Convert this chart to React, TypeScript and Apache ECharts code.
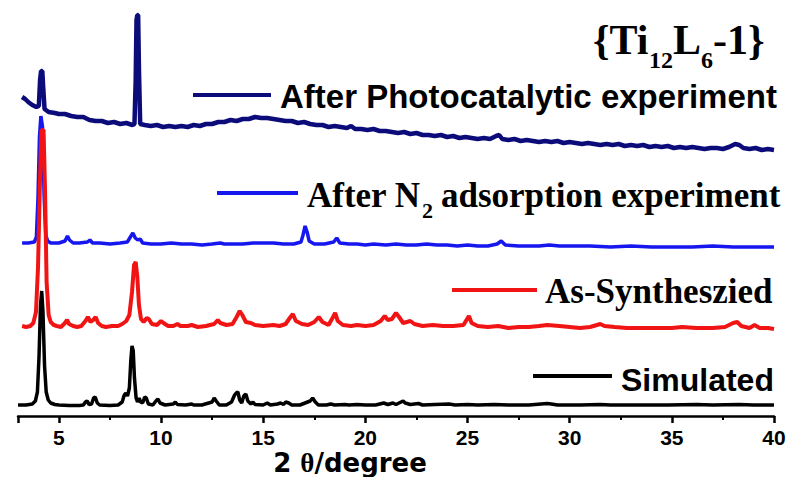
import React, { useEffect, useRef } from "react";
import * as echarts from "echarts";

// ---- axis ----
const X_MIN = 3;
const X_MAX = 40;
const X_TITLE_PARTS = ["2 ", "θ", "/degree"];

// ---- vertical offsets of stacked patterns (arbitrary intensity units) ----
const OFFSET_SIMULATED = 10;
const OFFSET_AS_SYNTH = 89;
const OFFSET_AFTER_N2 = 169;
const OFFSET_AFTER_PHOTO = 266;

// ---- patterns: [2θ, intensity] ----
const SIMULATED: number[][] = [
  [3.0, 1], [3.4, 1], [3.7, 2], [3.85, 5], [3.95, 14], [4.03, 50], [4.1, 100], [4.16, 115], [4.22, 95], [4.3, 40],
  [4.38, 14], [4.48, 6], [4.6, 3], [4.8, 1.5], [5.0, 1], [5.5, 0.5], [6.0, 0.5], [6.2, 1], [6.3, 4], [6.38, 5],
  [6.48, 1.5], [6.6, 2], [6.7, 8], [6.78, 9], [6.88, 3], [7.0, 1], [7.5, 0.5], [7.9, 1], [8.1, 4], [8.2, 11],
  [8.28, 13], [8.36, 10], [8.45, 18], [8.52, 45], [8.58, 60], [8.64, 55], [8.7, 28], [8.78, 8], [8.85, 4], [8.93, 8],
  [9.0, 4], [9.1, 3], [9.2, 9], [9.28, 8], [9.38, 2], [9.6, 1], [9.75, 5], [9.85, 7], [9.95, 3], [10.2, 1],
  [10.6, 2], [10.7, 4], [10.8, 1.5], [11.2, 1], [11.5, 2], [11.6, 1], [12.0, 1], [12.5, 4], [12.6, 8], [12.7, 5],
  [12.85, 1], [13.2, 1], [13.45, 4], [13.6, 11], [13.68, 13], [13.76, 14], [13.85, 6], [13.95, 3], [14.05, 10], [14.15, 12],
  [14.25, 5], [14.4, 2], [14.5, 4], [14.6, 1.5], [15.0, 1], [15.2, 3], [15.35, 1], [15.7, 2], [15.85, 3], [16.0, 1.5],
  [16.1, 4], [16.25, 3], [16.4, 1], [16.8, 1], [17.3, 5], [17.42, 8], [17.55, 4], [17.7, 1], [18.1, 1], [18.3, 2],
  [18.5, 1], [19.0, 1.5], [19.2, 1], [19.6, 1.5], [20.0, 1], [20.5, 1], [20.9, 3], [21.1, 1.5], [21.35, 3], [21.5, 1.5],
  [21.75, 4], [21.85, 5], [21.95, 3], [22.2, 1.5], [22.6, 2.5], [22.8, 1], [23.4, 1.5], [24.1, 2], [24.4, 1], [25.0, 1.5],
  [25.5, 1], [26.3, 1.5], [27.0, 1], [28.0, 1], [28.9, 2.5], [29.1, 2], [29.4, 1], [30.5, 1], [31.5, 1.5], [32.0, 1],
  [33.5, 1], [34.8, 1], [36.2, 1.5], [37.0, 1], [38.3, 1.5], [39.0, 1], [40.0, 1],
];

const AS_SYNTH: number[][] = [
  [3.2, 1], [3.4, 0], [3.6, 1], [3.75, 4], [3.88, 15], [3.98, 60], [4.08, 150], [4.15, 197], [4.25, 197], [4.32, 140],
  [4.4, 45], [4.5, 12], [4.6, 5], [4.75, 2], [4.9, 1], [5.1, 0], [5.3, 4], [5.4, 7], [5.5, 3], [5.7, 1],
  [5.9, 0], [6.1, 1], [6.3, 6], [6.42, 10], [6.55, 5], [6.68, 7], [6.8, 10], [6.92, 4], [7.1, 1], [7.3, 0],
  [7.6, 1], [7.9, 1], [8.1, 3], [8.3, 6], [8.45, 12], [8.58, 35], [8.68, 62], [8.76, 65], [8.84, 50], [8.92, 22],
  [9.02, 8], [9.15, 5], [9.3, 9], [9.4, 8], [9.55, 3], [9.8, 2], [10.0, 6], [10.12, 4], [10.35, 1], [10.6, 1],
  [10.8, 3], [10.95, 1], [11.3, 1], [11.5, 2], [11.8, 0], [12.2, 1], [12.6, 3], [12.78, 7], [12.9, 4], [13.2, 2],
  [13.5, 3], [13.7, 10], [13.85, 16], [13.98, 12], [14.15, 5], [14.4, 4], [14.6, 2], [15.0, 1], [15.5, 2], [15.8, 1],
  [16.1, 3], [16.3, 9], [16.45, 13], [16.6, 6], [16.9, 3], [17.2, 2], [17.5, 5], [17.72, 10], [17.9, 5], [18.2, 2],
  [18.42, 10], [18.52, 14], [18.65, 6], [18.9, 2], [19.3, 1], [19.6, 2], [20.0, 1], [20.4, 2], [20.75, 6], [20.95, 11],
  [21.1, 7], [21.3, 8], [21.5, 14], [21.65, 10], [21.85, 4], [22.2, 6], [22.4, 3], [22.8, 1], [23.3, 2], [23.8, 1],
  [24.3, 1], [24.8, 2], [24.95, 7], [25.07, 11], [25.2, 4], [25.5, 1], [26.0, 0], [26.5, 1], [27.0, -1], [27.5, 0],
  [28.0, 0], [28.5, 1], [28.9, 2], [29.5, 1], [30.0, 0], [30.5, -1], [31.0, 0], [31.5, 3], [31.7, 1], [32.2, 0],
  [32.8, -1], [33.5, -1], [34.2, -1], [35.0, -1], [35.5, 0], [36.2, -1], [37.0, -1], [37.6, 0], [38.0, 4], [38.2, 5],
  [38.4, 1], [38.8, -1], [39.05, 2], [39.3, -1], [39.7, -1], [40.0, -2],
];

const AFTER_N2: number[][] = [
  [3.2, 4], [3.5, 4], [3.8, 5], [3.9, 10], [3.98, 50], [4.05, 110], [4.12, 131], [4.2, 120], [4.28, 50], [4.36, 12],
  [4.45, 6], [4.6, 4], [5.0, 4], [5.3, 6], [5.42, 11], [5.52, 7], [5.7, 4], [6.0, 4], [6.4, 5], [6.52, 7],
  [6.65, 4], [7.0, 4], [7.5, 3], [8.0, 4], [8.35, 5], [8.5, 10], [8.62, 14], [8.74, 9], [8.86, 7], [8.98, 8],
  [9.1, 4], [9.5, 3], [10.0, 3], [10.5, 4], [11.0, 3], [11.5, 3], [12.0, 2], [12.5, 3], [12.9, 4], [13.1, 3],
  [13.5, 3], [14.0, 3], [14.5, 4], [15.0, 4], [15.5, 4], [16.0, 3], [16.5, 3], [16.85, 5], [16.95, 12], [17.05, 21],
  [17.15, 15], [17.25, 6], [17.5, 3], [18.0, 3], [18.45, 5], [18.6, 9], [18.75, 4], [19.2, 3], [19.6, 3], [20.0, 2],
  [20.4, 3], [21.0, 2], [21.5, 3], [22.0, 2], [22.5, 2], [23.0, 3], [23.5, 2], [24.0, 2], [24.5, 1], [25.0, 2],
  [25.5, 1], [26.0, 1], [26.45, 3], [26.65, 6], [26.85, 2], [27.5, 1], [28.0, 1], [28.5, 1], [29.0, 2], [29.5, 1],
  [30.0, 1], [31.0, 1], [32.0, 0], [33.0, 1], [34.0, 0], [35.0, 0], [36.0, 0], [37.0, 1], [38.0, 0], [39.0, 0],
  [40.0, 0],
];

const AFTER_PHOTO: number[][] = [
  [3.2, 53], [3.35, 51], [3.5, 48], [3.7, 45], [3.9, 43], [4.02, 44], [4.08, 70], [4.13, 79], [4.19, 79], [4.24, 60],
  [4.3, 41], [4.5, 38], [4.8, 37], [5.0, 36], [5.3, 36], [5.6, 34], [5.9, 33], [6.2, 33], [6.5, 30], [6.8, 29],
  [7.1, 29], [7.4, 27], [7.7, 28], [8.0, 26], [8.3, 27], [8.6, 25], [8.7, 26], [8.76, 70], [8.8, 130], [8.84, 135],
  [8.88, 135], [8.92, 80], [8.98, 26], [9.2, 25], [9.5, 24], [9.8, 25], [10.1, 23], [10.4, 24], [10.7, 23], [11.0, 24],
  [11.3, 23], [11.6, 25], [11.9, 24], [12.2, 26], [12.5, 26], [12.8, 28], [13.1, 28], [13.4, 30], [13.7, 29], [14.0, 31],
  [14.3, 31], [14.6, 33], [14.9, 32], [15.2, 32], [15.5, 31], [15.8, 30], [16.1, 29], [16.4, 29], [16.7, 27], [17.0, 28],
  [17.3, 26], [17.6, 25], [17.9, 25], [18.2, 23], [18.5, 24], [18.8, 23], [19.1, 22], [19.3, 24], [19.5, 21], [19.8, 21],
  [20.1, 20], [20.4, 21], [20.7, 19], [21.0, 19], [21.3, 18], [21.6, 17], [21.9, 18], [22.2, 16], [22.5, 17], [22.8, 15],
  [23.1, 15], [23.4, 14], [23.7, 15], [24.0, 13], [24.3, 14], [24.6, 12], [24.9, 13], [25.2, 12], [25.5, 11], [25.8, 12],
  [26.1, 11], [26.4, 14], [26.55, 15], [26.7, 11], [27.0, 10], [27.3, 11], [27.6, 9], [27.9, 10], [28.2, 9], [28.5, 8],
  [28.8, 9], [29.1, 8], [29.4, 9], [29.7, 7], [30.0, 8], [30.3, 7], [30.6, 6], [30.9, 7], [31.2, 6], [31.5, 5],
  [31.8, 6], [32.1, 5], [32.4, 6], [32.7, 4], [33.0, 5], [33.3, 4], [33.6, 5], [33.9, 3], [34.2, 4], [34.5, 3],
  [34.8, 4], [35.1, 2], [35.4, 3], [35.7, 2], [36.0, 3], [36.3, 2], [36.6, 1], [36.9, 2], [37.2, 2], [37.5, 1],
  [37.8, 3], [38.1, 6], [38.3, 5], [38.5, 2], [38.8, 1], [39.1, 2], [39.4, 0], [39.7, 1], [40.0, 0],
];

// ---- colours ----
const C_SIM = "#000000";
const C_AS = "#f01414";
const C_N2 = "#1616ee";
const C_PHOTO = "#0b0b7a";

const SANS = "Liberation Sans";
const SERIF = "Liberation Serif";
const DEJAVU = "DejaVu Sans";

function shift(data: number[][], off: number) {
  return data.map(([x, y]) => [x, y + off]);
}

function txt(text: string, x: number, y: number, size: number, family: string) {
  return {
    type: "text",
    x,
    y,
    silent: true,
    style: {
      text,
      fontSize: size,
      fontWeight: "bold",
      fontFamily: family,
      fill: "#000",
      textAlign: "left",
      textVerticalAlign: "middle",
      align: "left",
      verticalAlign: "middle",
    },
  };
}

function legLine(x1: number, x2: number, y: number, color: string) {
  return {
    type: "line",
    silent: true,
    shape: { x1, y1: y, x2, y2: y },
    style: { stroke: color, lineWidth: 4 },
  };
}

export default function App() {
  const ref = useRef<HTMLDivElement>(null);

  useEffect(() => {
    if (!ref.current) return;
    const chart = echarts.init(ref.current, undefined, { renderer: "svg" });
    const lineSeries = (name: string, data: number[][], off: number, color: string, width: number) => ({
      name,
      type: "line",
      data: shift(data, off),
      showSymbol: false,
      symbol: "none",
      lineStyle: { color, width },
      itemStyle: { color },
    });

    chart.setOption({
      animation: false,
      grid: { left: 18, right: 15, top: 0, bottom: 61 },
      xAxis: {
        type: "value",
        min: X_MIN,
        max: X_MAX,
        splitNumber: 7,
        axisLine: { show: true, onZero: false, lineStyle: { color: "#000", width: 2.5 } },
        axisTick: { show: true, length: 7, lineStyle: { color: "#000", width: 2.5 } },
        minorTick: { show: true, splitNumber: 2, length: 4, lineStyle: { color: "#000", width: 2 } },
        axisLabel: {
          show: true,
          showMinLabel: false,
          margin: 11,
          color: "#000",
          fontFamily: SANS,
          fontWeight: "bold",
          fontSize: 21,
          formatter: (v: number) => `{v|${v}}`,
          rich: {
            v: { fontFamily: SANS, fontWeight: "bold", fontSize: 21, color: "#000" },
          },
        },
        splitLine: { show: false },
      },
      yAxis: { type: "value", min: 0, max: 416, show: false },
      series: [
        lineSeries("Simulated", SIMULATED, OFFSET_SIMULATED, C_SIM, 3.5),
        lineSeries("After N2 adsorption experiment", AFTER_N2, OFFSET_AFTER_N2, C_N2, 3.5),
        lineSeries("As-Syntheszied", AS_SYNTH, OFFSET_AS_SYNTH, C_AS, 4),
        lineSeries("After Photocatalytic experiment", AFTER_PHOTO, OFFSET_AFTER_PHOTO, C_PHOTO, 4.5),
      ],
      graphic: [
        txt("{Ti", 593, 40, 42, SERIF),
        txt("12", 649, 60, 24, SERIF),
        txt("L", 673, 40, 42, SERIF),
        txt("6", 701, 60, 24, SERIF),
        txt("-1}", 713, 40, 42, SERIF),
        legLine(193, 271, 95, C_PHOTO),
        txt("After Photocatalytic experiment", 280, 96, 33, SANS),
        legLine(217, 298, 193, C_N2),
        txt("After N", 307, 195, 35, SERIF),
        txt("2", 422, 210, 22, SERIF),
        txt("adsorption experiment", 441, 195, 35, SERIF),
        legLine(452, 537, 290, C_AS),
        txt("As-Syntheszied", 545, 291, 35, SERIF),
        legLine(533, 612, 376, C_SIM),
        txt("Simulated", 621, 380, 32, SANS),
        {
          type: "text",
          x: 350,
          y: 463,
          silent: true,
          style: {
            text: `{a|${X_TITLE_PARTS[0]}}{t|${X_TITLE_PARTS[1]}}{a|${X_TITLE_PARTS[2]}}`,
            textAlign: "center",
            textVerticalAlign: "middle",
            align: "center",
            verticalAlign: "middle",
            fill: "#000",
            fontSize: 26,
            fontWeight: "bold",
            fontFamily: DEJAVU,
            rich: {
              a: { fontSize: 26, fontWeight: "bold", fontFamily: DEJAVU, color: "#000" },
              t: { fontSize: 27, fontWeight: "bold", fontFamily: SERIF, color: "#000" },
            },
          },
        },
      ],
    });
    return () => chart.dispose();
  }, []);

  return (
    <div
      ref={ref}
      style={{ position: "absolute", left: 0, top: 0, width: 789, height: 477, background: "#fff" }}
    />
  );
}
